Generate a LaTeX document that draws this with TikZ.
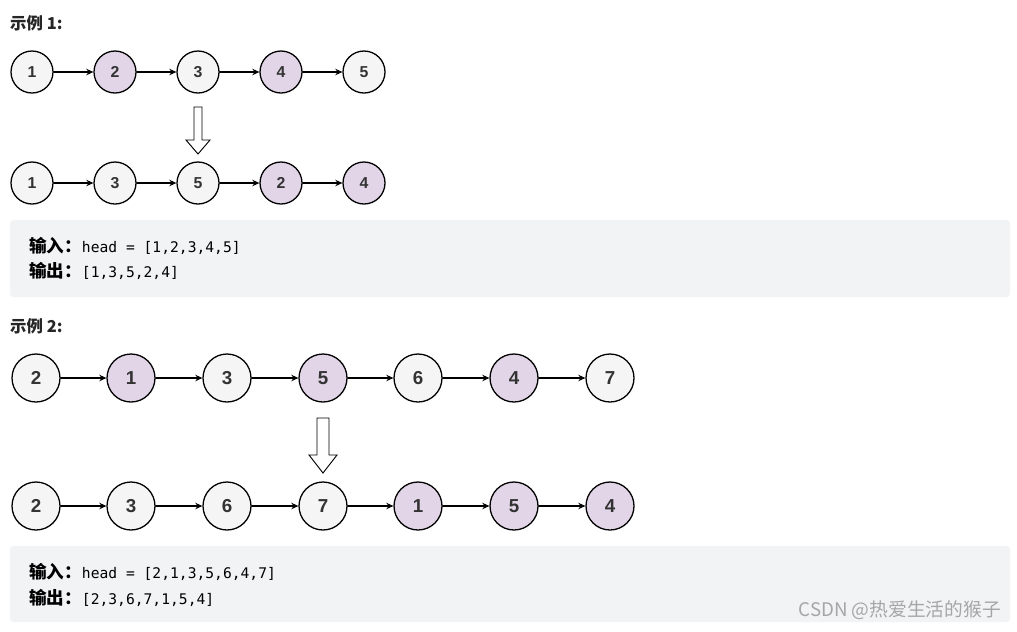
\documentclass[tikz,border=0pt]{standalone}
\usepackage{fontspec}
\setmainfont{Liberation Sans}
\setmonofont{DejaVu Sans Mono}
\newfontfamily\cjk{Noto Sans CJK SC}
\usetikzlibrary{arrows.meta}
\definecolor{nodegray}{HTML}{F5F5F5}
\definecolor{nodepurple}{HTML}{E1D5E7}
\definecolor{boxgray}{HTML}{F2F3F5}
\definecolor{digitgray}{HTML}{333333}

\tikzset{
  lnode/.style={circle,draw=black,line width=1.1pt,fill=nodegray,minimum size=1.26cm,inner sep=0pt,
    text=digitgray,font=\bfseries\fontsize{13.5}{13.5}\selectfont},
  lnodebig/.style={lnode,minimum size=1.44cm,font=\bfseries\fontsize{16}{16}\selectfont},
  hl/.style={fill=nodepurple},
  link/.style={-{Stealth[length=6pt,width=5.5pt]},line width=0.9pt},
  hollow/.style={draw=black,fill=white,line width=0.8pt,line join=miter},
  codebox/.style={fill=boxgray,rounded corners=3pt},
  title/.style={anchor=west,inner sep=0pt,text=black!85,font=\cjk\bfseries\fontsize{14}{14}\selectfont},
  codeline/.style={anchor=west,inner sep=0pt,text=black,font=\fontsize{12.5}{12.5}\selectfont}
}
\newcommand{\lbl}[1]{{\cjk\bfseries\fontsize{15}{15}\selectfont #1}}

\begin{document}
\begin{tikzpicture}[x=0.03cm,y=-0.03cm,line cap=round]
\useasboundingbox (0,0) rectangle (1017,631);
% example 1
\node[title] (t1) at (10,23) {示例 1:};
\node[lnode] (a1) at (32,72) {1};
\node[lnode,hl] (a2) at (115,72) {2};
\node[lnode] (a3) at (198,72) {3};
\node[lnode,hl] (a4) at (281,72) {4};
\node[lnode] (a5) at (364,72) {5};
\draw[link] (a1) -- (a2);
\draw[link] (a2) -- (a3);
\draw[link] (a3) -- (a4);
\draw[link] (a4) -- (a5);
\draw[hollow] (194,107) -- (202,107) -- (202,140) -- (210,140) -- (198,154)
  -- (186,140) -- (194,140) -- cycle;
\node[lnode] (b1) at (32,183) {1};
\node[lnode] (b2) at (115,183) {3};
\node[lnode] (b3) at (198,183) {5};
\node[lnode,hl] (b4) at (281,183) {2};
\node[lnode,hl] (b5) at (364,183) {4};
\draw[link] (b1) -- (b2);
\draw[link] (b2) -- (b3);
\draw[link] (b3) -- (b4);
\draw[link] (b4) -- (b5);
\fill[codebox] (10,220) rectangle (1010,297);
\node[codeline] (in1) at (29,246) {\lbl{输入：}\ttfamily head = [1,2,3,4,5]};
\node[codeline] (out1) at (29,271) {\lbl{输出：}\ttfamily [1,3,5,2,4]};
% example 2
\node[title] (t2) at (10,326) {示例 2:};
\node[lnodebig] (c1) at (36,378) {2};
\node[lnodebig,hl] (c2) at (131,378) {1};
\node[lnodebig] (c3) at (227,378) {3};
\node[lnodebig,hl] (c4) at (323,378) {5};
\node[lnodebig] (c5) at (418,378) {6};
\node[lnodebig,hl] (c6) at (514,378) {4};
\node[lnodebig] (c7) at (610,378) {7};
\draw[link] (c1) -- (c2);
\draw[link] (c2) -- (c3);
\draw[link] (c3) -- (c4);
\draw[link] (c4) -- (c5);
\draw[link] (c5) -- (c6);
\draw[link] (c6) -- (c7);
\draw[hollow] (317,418) -- (329,418) -- (329,455) -- (337,455) -- (323,473)
  -- (309,455) -- (317,455) -- cycle;
\node[lnodebig] (d1) at (36,506) {2};
\node[lnodebig] (d2) at (131,506) {3};
\node[lnodebig] (d3) at (227,506) {6};
\node[lnodebig] (d4) at (323,506) {7};
\node[lnodebig,hl] (d5) at (418,506) {1};
\node[lnodebig,hl] (d6) at (514,506) {5};
\node[lnodebig,hl] (d7) at (610,506) {4};
\draw[link] (d1) -- (d2);
\draw[link] (d2) -- (d3);
\draw[link] (d3) -- (d4);
\draw[link] (d4) -- (d5);
\draw[link] (d5) -- (d6);
\draw[link] (d6) -- (d7);
\fill[codebox] (10,546) rectangle (1010,622);
\node[codeline] (in2) at (29,572) {\lbl{输入：}\ttfamily head = [2,1,3,5,6,4,7]};
\node[codeline] (out2) at (29,598) {\lbl{输出：}\ttfamily [2,3,6,7,1,5,4]};
\node[anchor=east,inner sep=0pt,text=black!35,font=\cjk\fontsize{16}{16}\selectfont] (mark) at (1001,610) {CSDN @热爱生活的猴子};
\end{tikzpicture}
\end{document}
